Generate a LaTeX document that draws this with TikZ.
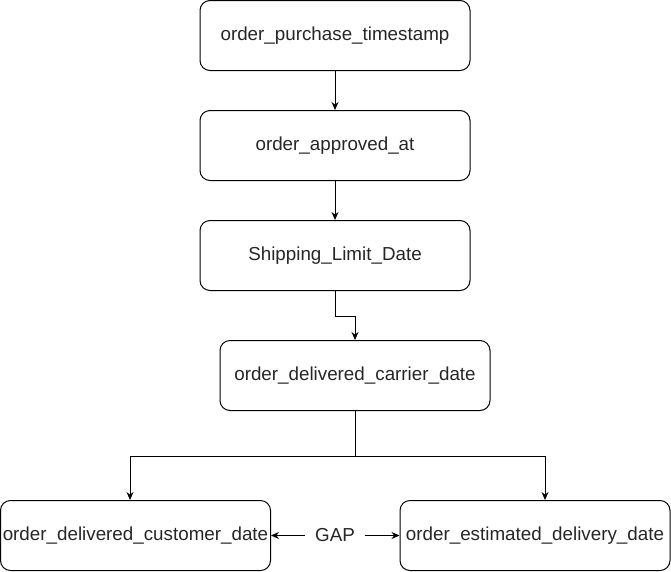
\documentclass[tikz,border=0pt]{standalone}
\usepackage{fontspec}
\setmainfont{Liberation Sans}
\usepackage{tikz}
\usetikzlibrary{arrows.meta}

\tikzset{
	datebox/.style={draw, rectangle, rounded corners=10pt, line width=1pt, minimum width=270pt, minimum height=70pt, inner sep=0pt, text=black!85, font=\fontsize{18.8}{22}\selectfont},
	flow/.style={->, >={Stealth[length=8pt, width=7pt]}, line width=1pt}
}

\begin{document}
\begin{tikzpicture}[x=1pt, y=-1pt]
				\useasboundingbox (0,0) rectangle (671,571);
				\node[datebox] (purchase)at(335, 35.5) {order\_purchase\_timestamp};
				\node[datebox] (approved)at(335, 145.5) {order\_approved\_at};
				\node[datebox] (limit)at(335, 255.5) {Shipping\_Limit\_Date};
				\node[datebox] (carrier)at(355, 375.5) {order\_delivered\_carrier\_date};
				\node[datebox] (customer)at(135.5, 535.5) {order\_delivered\_customer\_date};
				\node[datebox] (estimated)at(535, 535.5) {order\_estimated\_delivery\_date};
				\node[inner sep=0pt, text=black!85, font=\fontsize{18.8}{22}\selectfont] (gap)at(335, 535.5) {GAP};
				\draw[flow] (purchase) -- (approved);
				\draw[flow] (approved) -- (limit);
				\draw[flow] (limit.south) -- ++(0, 25) -| (carrier.north);
				\draw[flow] (carrier.south) -- ++(0, 45) -| ([xshift=-5.5pt]customer.north);
				\draw[flow] (carrier.south) -- ++(0, 45) -| ([xshift=10pt]estimated.north);
				\draw[flow] (gap.west) ++(-10pt, 0) coordinate (gapl) (gapl) -- (customer.east);
				\draw[flow] (gap.east) ++(10pt, 0) coordinate (gapr) (gapr) -- (estimated.west);
			\end{tikzpicture}
\end{document}
